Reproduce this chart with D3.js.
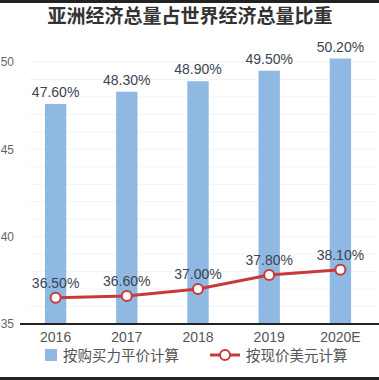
<!DOCTYPE html>
<html><head><meta charset="utf-8">
<script src="https://cdn.jsdelivr.net/npm/d3@7"></script>
<style>body{margin:0;background:#fff;}svg{display:block;}</style>
</head><body>
<svg id="c" width="379" height="380"></svg>
<script>
const categories = ["2016","2017","2018","2019","2020E"];
const pppValues = [47.6, 48.3, 48.9, 49.5, 50.2];
const usdValues = [36.5, 36.6, 37.0, 37.8, 38.1];
const yTicks = [35, 40, 45, 50];
const title = "亚洲经济总量占世界经济总量比重";
const legendLabels = ["按购买力平价计算", "按现价美元计算"];

const svg = d3.select("#c");
const W = 379, H = 380;
const x = d3.scaleBand().domain(categories).range([20, 376]).paddingInner(0.7).paddingOuter(0.35);
const y = d3.scaleLinear().domain([35, 50]).range([324, 62]);
const numFont = "'Liberation Sans Narrow','Liberation Sans',Arial,sans-serif";

// borders
svg.append("rect").attr("x",0).attr("y",0).attr("width",W).attr("height",3).attr("fill","#222");
svg.append("rect").attr("x",0).attr("y",377).attr("width",W).attr("height",3).attr("fill","#222");

// title
svg.append("text").attr("x",190).attr("y",23).attr("text-anchor","middle")
  .attr("font-family","'Noto Sans CJK SC',sans-serif").attr("font-weight","bold")
  .attr("font-size",19).attr("fill","#333").text(title);

// faint gridlines
svg.append("g").selectAll("line").data(d3.range(36, 51)).join("line")
  .attr("x1",30).attr("x2",376).attr("y1",d=>y(d)).attr("y2",d=>y(d))
  .attr("stroke","#f3f3f3").attr("stroke-width",1);

// y axis labels
const yAxis = d3.axisLeft(y).tickValues(yTicks).tickSize(0).tickPadding(0);
const ga = svg.append("g").attr("transform","translate(14,0)").call(yAxis);
ga.select(".domain").remove();
ga.selectAll("text").attr("font-family",numFont).attr("font-size",12).attr("fill","#666")
  .attr("text-anchor","end");

// bars
svg.append("g").selectAll("rect").data(pppValues).join("rect")
  .attr("x",(d,i)=>x(categories[i])).attr("width",x.bandwidth())
  .attr("y",d=>y(d)).attr("height",d=>y(35)-y(d)).attr("fill","#8fb9e2");

// bar labels
svg.append("g").selectAll("text").data(pppValues).join("text")
  .attr("x",(d,i)=>x(categories[i])+x.bandwidth()/2).attr("y",d=>y(d)-7)
  .attr("text-anchor","middle").attr("font-family",numFont).attr("font-size",14)
  .attr("fill","#3b4450").text(d=>d.toFixed(2)+"%");

// x axis line
const xAxis = d3.axisBottom(x).tickSize(0).tickPadding(8);
const gx = svg.append("g").attr("transform",`translate(0,${y(35)})`).call(xAxis);
gx.select(".domain").attr("stroke","#222").attr("stroke-width",2).attr("d","M20,0H379");
gx.selectAll("text").attr("font-family",numFont).attr("font-size",14).attr("fill","#555");

// line
const cx = (i)=>x(categories[i])+x.bandwidth()/2;
const line = d3.line().x((d,i)=>cx(i)).y(d=>y(d));
svg.append("path").datum(usdValues).attr("d",line).attr("fill","none")
  .attr("stroke","#c8393c").attr("stroke-width",3);
svg.append("g").selectAll("circle").data(usdValues).join("circle")
  .attr("cx",(d,i)=>cx(i)).attr("cy",d=>y(d)).attr("r",5)
  .attr("fill","#fff").attr("stroke","#c8393c").attr("stroke-width",2);
svg.append("g").selectAll("text").data(usdValues).join("text")
  .attr("x",(d,i)=>cx(i)).attr("y",d=>y(d)-10)
  .attr("text-anchor","middle").attr("font-family",numFont).attr("font-size",14)
  .attr("fill","#3b4450").text(d=>d.toFixed(2)+"%");

// legend
const lg = svg.append("g");
lg.append("rect").attr("x",45).attr("y",349).attr("width",12).attr("height",12).attr("fill","#8fb9e2");
lg.append("text").attr("x",63).attr("y",361).attr("font-family","'Noto Sans CJK SC',sans-serif")
  .attr("font-size",14.5).attr("fill","#555").text(legendLabels[0]);
lg.append("line").attr("x1",210).attr("x2",240).attr("y1",355).attr("y2",355)
  .attr("stroke","#c8393c").attr("stroke-width",3);
lg.append("circle").attr("cx",225).attr("cy",355).attr("r",5).attr("fill","#fff")
  .attr("stroke","#c8393c").attr("stroke-width",2);
lg.append("text").attr("x",246).attr("y",361).attr("font-family","'Noto Sans CJK SC',sans-serif")
  .attr("font-size",14.5).attr("fill","#555").text(legendLabels[1]);
</script>
</body></html>
